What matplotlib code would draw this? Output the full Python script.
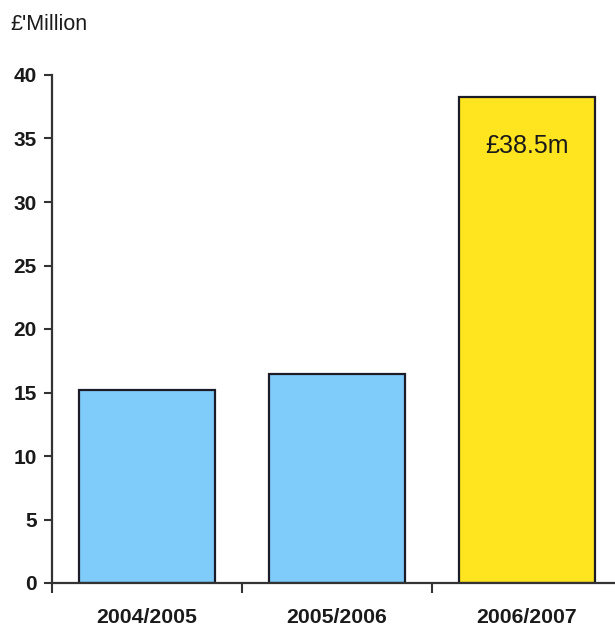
import matplotlib
matplotlib.use("Agg")
import matplotlib.pyplot as plt
import numpy as np

plt.rcParams['font.family'] = ['Liberation Sans', 'DejaVu Sans']

categories = ["2004/2005", "2005/2006", "2006/2007"]
values = [15.2, 16.45, 38.3]
colors = ["#7fcbf9", "#7fcbf9", "#ffe51f"]
annotation = "£38.5m"
yticks = [0, 5, 10, 15, 20, 25, 30, 35, 40]

W, H = 615, 630
fig = plt.figure(figsize=(W / 100, H / 100), dpi=100)
left, right, bottom, top = 52, 622, 583, 75
ax = fig.add_axes([left / W, 1 - bottom / H, (right - left) / W, (bottom - top) / H])

x = np.arange(len(categories))
ax.bar(x, values, width=0.72, color=colors, edgecolor="#1c1c28", linewidth=1.6, zorder=2)

ax.set_xlim(-0.5, len(categories) - 0.5)
ax.set_ylim(0, 40)
ax.set_yticks(yticks)
ax.set_yticklabels([str(t) for t in yticks], fontsize=15, fontweight='bold', color='#1a1a1a')
ax.set_xticks(x)
ax.set_xticklabels(categories, fontsize=15.3, fontweight='bold', color='#1a1a1a')
ax.tick_params(axis='x', which='major', length=0, pad=18)
ax.set_xticks(np.arange(-0.5, len(categories) - 0.5, 1.0), minor=True)
ax.tick_params(axis='x', which='minor', length=7, width=1.5, direction='out', color='#333333')
ax.tick_params(axis='y', length=6, width=1.5, direction='out', color='#333333', pad=5)

for s in ['top', 'right']:
    ax.spines[s].set_visible(False)
for s in ['left', 'bottom']:
    ax.spines[s].set_linewidth(1.6)
    ax.spines[s].set_color('#333333')

ax.text(x[2], 34.4, annotation, ha='center', va='center', fontsize=18, color='#1a1a1a', zorder=3)

fig.text(10 / W, 1 - 24 / H, "£'Million", fontsize=15.5, ha='left', va='center', color='#1a1a1a')

fig.savefig("out.png", dpi=100)
